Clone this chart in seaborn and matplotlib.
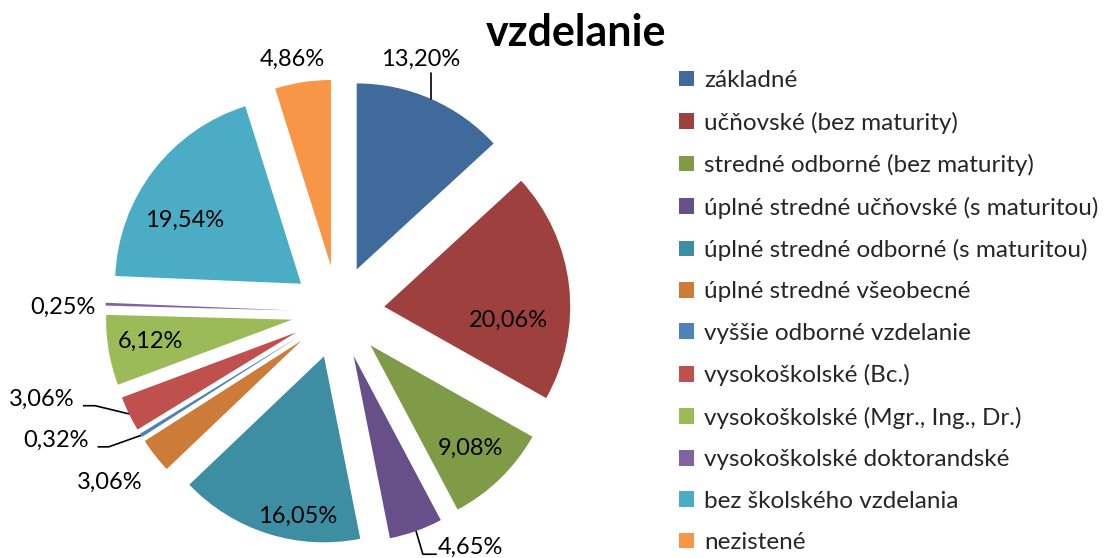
import numpy as np
import matplotlib
matplotlib.use("Agg")
import matplotlib.pyplot as plt
from matplotlib.patches import Patch
import seaborn as sns

# ── Data ──────────────────────────────────────────────────────────
CATEGORIES = [
    "základné",
    "učňovské (bez maturity)",
    "stredné odborné (bez maturity)",
    "úplné stredné učňovské (s maturitou)",
    "úplné stredné odborné (s maturitou)",
    "úplné stredné všeobecné",
    "vyššie odborné vzdelanie",
    "vysokoškolské (Bc.)",
    "vysokoškolské (Mgr., Ing., Dr.)",
    "vysokoškolské doktorandské",
    "bez školského vzdelania",
    "nezistené",
]
SHARES = [13.20, 20.06, 9.08, 4.65, 16.05, 3.06, 0.32, 3.06, 6.12, 0.25, 19.54, 4.86]
TITLE = "vzdelanie"

# ── Style ─────────────────────────────────────────────────────────
COLORS = [
    "#406A9C", "#9E413E", "#7F9B48", "#67508A", "#3D8DA3", "#CC7B38",
    "#4F81BD", "#C0504D", "#9BBB59", "#8064A2", "#4BACC6", "#F79646",
]
EXPLODE = 0.25
# label placement: radius from pie centre, angular shift from slice middle
LABEL_R    = [1.43, 0.92, 1.02, 1.46, 1.12, 1.53, 1.67, 1.65, 1.02, 1.48, 0.96, 1.38]
LABEL_DANG = [5.5, -9.3, 0.0, 10.0, 6.3, -1.4, -7.2, -9.8, -0.5, 1.0, 6.5, 1.4]
# leader lines: slice index -> (elbow radius, elbow angle shift, horizontal run)
LEADERS = {0: (1.38, 2.2, 0.0), 3: (1.38, -0.3, 0.075),
           6: (1.43, -1.6, -0.06), 7: (1.40, -4.9, -0.065)}
LABEL_SIZE = 17
LEGEND_SIZE = 17.5

sns.set_theme(style="white")
FONT = ["Lato", "DejaVu Sans"]
plt.rcParams["font.family"] = FONT

W, H = 1111, 558
PX = 186.0          # pixels per pie radius
CX, CY = 338, 312   # pie centre in pixels (from top-left)


def polar(r, deg):
    a = np.deg2rad(deg)
    return r * np.cos(a), r * np.sin(a)


def main():
    fig = plt.figure(figsize=(W / 100, H / 100), dpi=100)
    ax = fig.add_axes([0, 0, 1, 1])

    wedges, _ = ax.pie(
        SHARES,
        colors=COLORS,
        explode=[EXPLODE] * len(SHARES),
        startangle=90,
        counterclock=False,
        radius=1.0,
        wedgeprops=dict(linewidth=0),
    )

    for i, (w, v) in enumerate(zip(wedges, SHARES)):
        mid = (w.theta1 + w.theta2) / 2.0
        txt = f"{v:.2f}".replace(".", ",") + "%"
        if i in LEADERS and LEADERS[i][2] != 0.0:
            er, ed, run = LEADERS[i]
            sx, sy = polar(1.0 + EXPLODE, mid)
            ex, ey = polar(er, mid + ed)
            fx = ex + run
            ax.plot([sx, ex, fx], [sy, ey, ey], color="black", lw=1.2,
                    solid_capstyle="butt")
            gap = 0.045 if run < 0 else 0.005
            ax.text(fx + np.sign(run) * gap, ey + 0.035, txt,
                    ha="left" if run > 0 else "right", va="center",
                    fontsize=LABEL_SIZE, color="black")
            continue
        if i in LEADERS:
            er, ed, _ = LEADERS[i]
            sx, sy = polar(1.0 + EXPLODE, mid)
            ex, ey = polar(er, mid + ed)
            ax.plot([sx, sx], [sy, ey], color="black", lw=1.2)
        lx, ly = polar(LABEL_R[i], mid + LABEL_DANG[i])
        ax.text(lx, ly, txt, ha="center", va="center",
                fontsize=LABEL_SIZE, color="black")

    ax.set_aspect("equal")
    ax.set_xlim(-CX / PX, (W - CX) / PX)
    ax.set_ylim((CY - H) / PX, CY / PX)
    ax.axis("off")

    fig.text(576 / W, 1 - 33 / H, TITLE, ha="center", va="center",
             fontsize=31, fontweight="bold", color="black")

    handles = [Patch(facecolor=c, edgecolor="none") for c in COLORS]
    fig.legend(
        handles, CATEGORIES,
        loc="upper left", bbox_to_anchor=(679 / W, 1 - 70 / H),
        frameon=False, fontsize=LEGEND_SIZE,
        handlelength=0.62, handleheight=0.62, handletextpad=0.4,
        labelspacing=0.84, borderaxespad=0, borderpad=0,
    )

    fig.savefig("out.png", dpi=100)
    plt.close(fig)


if __name__ == "__main__":
    main()
